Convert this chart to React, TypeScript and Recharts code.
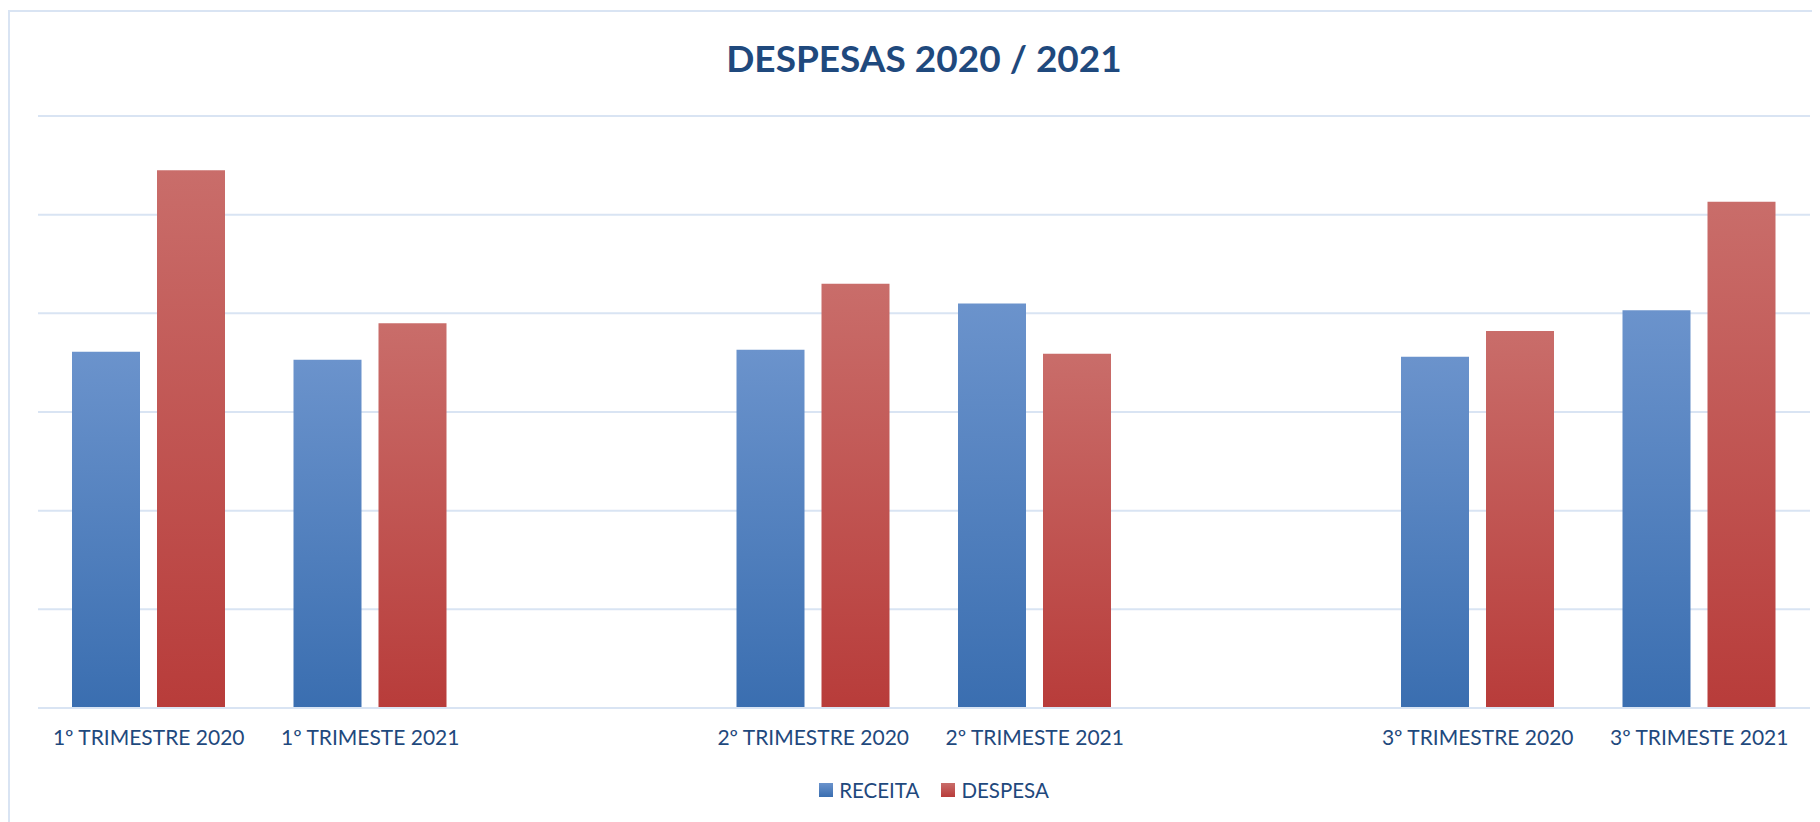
import React from 'react';
import { BarChart, Bar, XAxis, YAxis, CartesianGrid } from 'recharts';

// quarters (blank entries are the empty slots between the years)
const categories = [
  '1º TRIMESTRE 2020',
  '1º TRIMESTE 2021',
  '',
  '2º TRIMESTRE 2020',
  '2º TRIMESTE 2021',
  '',
  '3º TRIMESTRE 2020',
  '3º TRIMESTE 2021',
];
const receita = [3.61, 3.53, null, 3.63, 4.1, null, 3.56, 4.03];
const despesa = [5.45, 3.9, null, 4.3, 3.59, null, 3.82, 5.13];
const yTicks = [0, 1, 2, 3, 4, 5, 6];

const data = categories.map((name, i) => ({
  name,
  RECEITA: receita[i],
  DESPESA: despesa[i],
}));

const textColor = '#1F497D';
const gridColor = '#D9E4F3';
const font = 'Lato, "Open Sans", sans-serif';

const LegendBox = () => (
  <div
    style={{
      position: 'absolute',
      left: 40,
      width: 1772,
      top: 770,
      display: 'flex',
      justifyContent: 'center',
      alignItems: 'center',
      fontFamily: font,
      fontSize: 20.5,
      color: textColor,
    }}
  >
    <span style={{ display: 'inline-block', width: 14, height: 14, background: 'linear-gradient(#6B93CC, #3A6EB0)', marginRight: 6 }} />
    <span style={{ marginRight: 22 }}>RECEITA</span>
    <span style={{ display: 'inline-block', width: 14, height: 14, background: 'linear-gradient(#C96D6A, #B83C3A)', marginRight: 6 }} />
    <span>DESPESA</span>
  </div>
);

const App = () => {
  return (
    <div style={{ position: 'relative', width: 1812, height: 814, overflow: 'hidden', background: '#fff' }}>
      <div
        style={{
          position: 'absolute',
          left: 0,
          top: 2,
          width: 1900,
          height: 900,
          border: `2px solid ${gridColor}`,
        }}
      />
      <div
        style={{
          position: 'absolute',
          left: 30,
          width: 1772,
          top: 27,
          textAlign: 'center',
          fontFamily: font,
          fontWeight: 700,
          fontSize: 37,
          color: textColor,
        }}
      >
        DESPESAS 2020 / 2021
      </div>
      <div style={{ position: 'absolute', left: 0, top: 0 }}>
        <BarChart
          width={1812}
          height={814}
          data={data}
          margin={{ top: 108, right: 10, left: 30, bottom: 84 }}
          barSize={68}
          barGap={17}
        >
          <defs>
            <linearGradient id="gradBlue" x1="0" y1="0" x2="0" y2="1">
              <stop offset="0%" stopColor="#6B93CC" />
              <stop offset="100%" stopColor="#3A6EB0" />
            </linearGradient>
            <linearGradient id="gradRed" x1="0" y1="0" x2="0" y2="1">
              <stop offset="0%" stopColor="#C96D6A" />
              <stop offset="100%" stopColor="#B83C3A" />
            </linearGradient>
          </defs>
          <CartesianGrid vertical={false} stroke={gridColor} strokeWidth={2} />
          <XAxis
            dataKey="name"
            height={30}
            tickLine={false}
            axisLine={{ stroke: gridColor, strokeWidth: 2 }}
            tickMargin={16}
            interval={0}
            tick={{ fill: textColor, fontSize: 21, fontFamily: font }}
          />
          <YAxis hide domain={[0, 6]} ticks={yTicks} />
          <Bar dataKey="RECEITA" fill="url(#gradBlue)" isAnimationActive={false} />
          <Bar dataKey="DESPESA" fill="url(#gradRed)" isAnimationActive={false} />
        </BarChart>
      </div>
      <LegendBox />
    </div>
  );
};

export default App;
